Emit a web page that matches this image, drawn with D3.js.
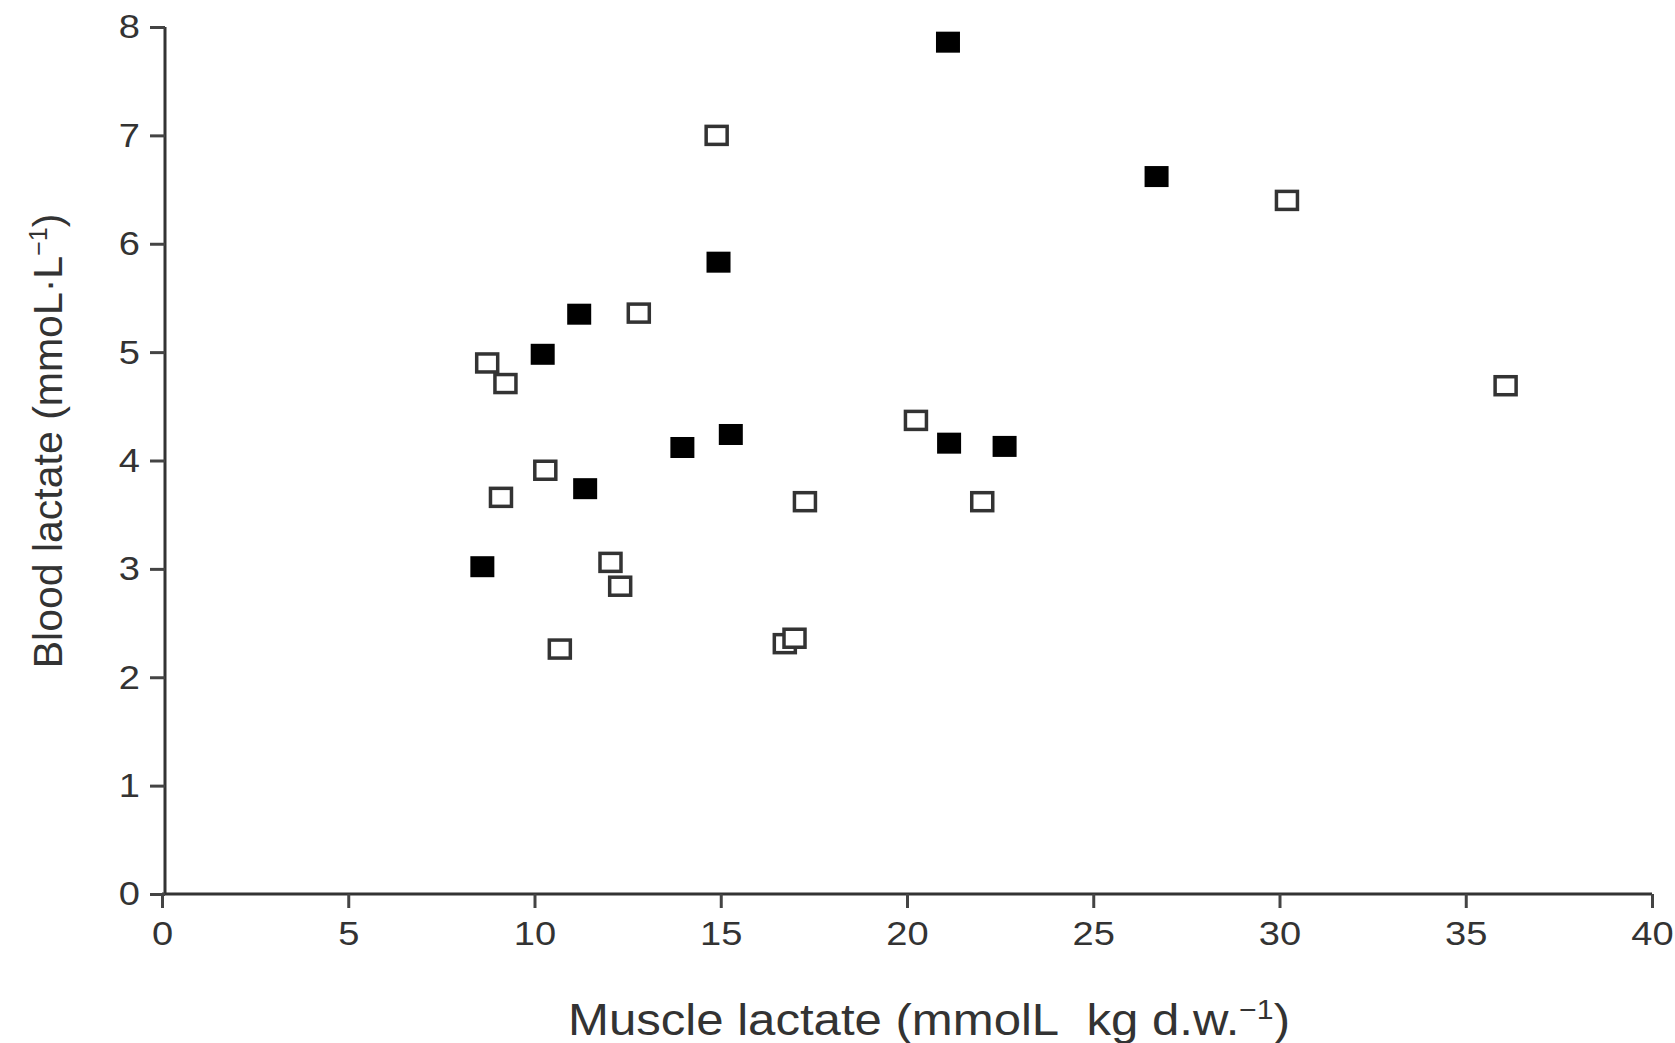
<!DOCTYPE html>
<html>
<head>
<meta charset="utf-8">
<script src="https://cdn.jsdelivr.net/npm/d3@7"></script>
<style>
  html, body { margin: 0; padding: 0; background: #fff; }
  svg { display: block; }
  text { font-family: "Liberation Sans", Arial, sans-serif; fill: #333; }
</style>
</head>
<body>
<svg id="chart" width="1675" height="1043"></svg>
<script>
// Muscle lactate (x) vs blood lactate (y), two groups of subjects
const filledX = [21.1, 26.7, 14.94, 11.2, 10.22, 15.27, 13.97, 21.13, 22.62, 11.36, 8.6];
const filledY = [7.86, 6.62, 5.83, 5.35, 4.98, 4.24, 4.12, 4.16, 4.13, 3.74, 3.02];

const openX = [14.89, 30.2, 12.8, 8.73, 9.22, 36.07, 20.24, 10.29, 9.1, 17.26, 22.02, 12.04, 12.3, 10.68, 16.72, 16.98];
const openY = [7.0, 6.4, 5.36, 4.9, 4.71, 4.69, 4.37, 3.91, 3.66, 3.62, 3.62, 3.06, 2.84, 2.26, 2.31, 2.36];

const xTicks = [0, 5, 10, 15, 20, 25, 30, 35, 40];
const yTicks = [0, 1, 2, 3, 4, 5, 6, 7, 8];

const svg = d3.select("#chart");

const x = d3.scaleLinear().domain([0, 40]).range([162, 1652]);
const y = d3.scaleLinear().domain([0, 8]).range([894, 27]);

// axes
const xAxis = d3.axisBottom(x).tickValues(xTicks).tickSize(14).tickPadding(13).tickSizeOuter(0);
const yAxis = d3.axisLeft(y).tickValues(yTicks).tickSize(15).tickPadding(10).tickSizeOuter(0);

const gx = svg.append("g").attr("transform", `translate(0,${y(0)})`).call(xAxis);
const gy = svg.append("g").attr("transform", `translate(${x(0) + 3},0)`).call(yAxis);

[gx, gy].forEach(g => {
  g.select(".domain").attr("stroke", "#333").attr("stroke-width", 3);
  g.selectAll(".tick line").attr("stroke", "#444").attr("stroke-width", 3);
  g.selectAll(".tick text").attr("fill", "#333").style("font-size", "34px")
    .style("font-family", "'Liberation Sans', Arial, sans-serif");
});
gx.select(".domain").attr("d", `M${x(0)},0H${x(40)}`);
gy.select(".domain").attr("d", `M0,${y(0)}V${y(8)}`);

// slightly wider digits on the tick labels
gx.selectAll(".tick text").attr("transform", "scale(1.12,1)");
gy.selectAll(".tick text").each(function () {
  const t = d3.select(this);
  const tx = +t.attr("x");
  t.attr("x", tx / 1.12).attr("transform", "scale(1.12,1)");
});

// points
const sw = 24, sh = 21;
const filled = filledX.map((v, i) => ({ x: v, y: filledY[i] }));
const open = openX.map((v, i) => ({ x: v, y: openY[i] }));

svg.append("g").selectAll("rect").data(open).join("rect")
  .attr("x", d => x(d.x) - sw / 2 + 1.5)
  .attr("y", d => y(d.y) - sh / 2 + 1.5)
  .attr("width", sw - 3).attr("height", sh - 3)
  .attr("fill", "#fff").attr("stroke", "#333").attr("stroke-width", 3.5);

svg.append("g").selectAll("rect").data(filled).join("rect")
  .attr("x", d => x(d.x) - sw / 2)
  .attr("y", d => y(d.y) - sh / 2)
  .attr("width", sw).attr("height", sh)
  .attr("fill", "#000");

// axis titles
const xt = svg.append("text")
  .attr("x", 929).attr("y", 1035)
  .attr("text-anchor", "middle")
  .attr("textLength", 722)
  .attr("lengthAdjust", "spacingAndGlyphs")
  .style("font-size", "44px");
xt.append("tspan").text("Muscle lactate (mmolL\u00a0 kg d.w.");
xt.append("tspan").attr("dy", -16).style("font-size", "27px").text("\u22121");
xt.append("tspan").attr("dy", 16).text(")");

const yt = svg.append("text")
  .attr("transform", "translate(62,441) rotate(-90)")
  .attr("text-anchor", "middle")
  .style("font-size", "41px");
yt.append("tspan").text("Blood lactate (mmoL\u00b7L");
yt.append("tspan").attr("dy", -15).style("font-size", "25px").text("\u22121");
yt.append("tspan").attr("dy", 15).text(")");
</script>
</body>
</html>
